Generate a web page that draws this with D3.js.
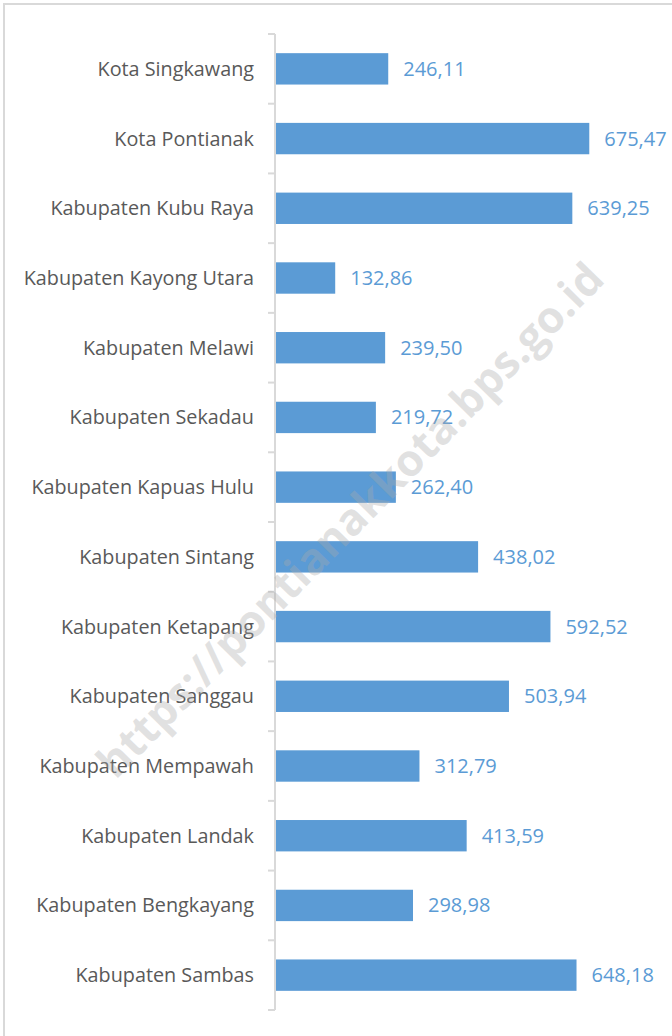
<!DOCTYPE html>
<html>
<head>
<meta charset="utf-8">
<script src="https://cdn.jsdelivr.net/npm/d3@7"></script>
<style>
  html, body { margin: 0; padding: 0; background: #fff; }
  svg { display: block; }
</style>
</head>
<body>
<svg id="chart" width="672" height="1036"></svg>
<script>
// data, top to bottom as in the picture
var regions = ["Kota Singkawang", "Kota Pontianak", "Kabupaten Kubu Raya", "Kabupaten Kayong Utara",
  "Kabupaten Melawi", "Kabupaten Sekadau", "Kabupaten Kapuas Hulu", "Kabupaten Sintang",
  "Kabupaten Ketapang", "Kabupaten Sanggau", "Kabupaten Mempawah", "Kabupaten Landak",
  "Kabupaten Bengkayang", "Kabupaten Sambas"];
var values = [246.11, 675.47, 639.25, 132.86, 239.50, 219.72, 262.40, 438.02,
  592.52, 503.94, 312.79, 413.59, 298.98, 648.18];
var watermark = "https://pontianakkota.bps.go.id";

var data = regions.map(function(r, i){ return {name: r, val: values[i]}; });

var svg = d3.select("svg#chart");
var fmt = function(v){ return v.toFixed(2).replace(".", ","); };

// chart frame (only left and top edges fall inside the picture)
svg.append("rect")
  .attr("x", 4).attr("y", 4)
  .attr("width", 700).attr("height", 1060)
  .attr("fill", "none")
  .attr("stroke", "#d9d9d9")
  .attr("stroke-width", 2);

var axisX = 275;
var x = d3.scaleLinear().domain([0, 800]).range([273, 273 + 374.6]);
var y = d3.scaleBand().domain(regions).range([34, 1010]).paddingInner(0.55).paddingOuter(0.275);

// axis line and ticks at band boundaries
var g = svg.append("g");
g.append("line")
  .attr("x1", axisX).attr("x2", axisX)
  .attr("y1", 34).attr("y2", 1010)
  .attr("stroke", "#d9d9d9").attr("stroke-width", 2);
var bounds = d3.range(regions.length + 1).map(function(i){ return 34 + i * y.step(); });
g.selectAll("line.tick")
  .data(bounds)
  .enter()
  .append("line")
  .attr("class", "tick")
  .attr("x1", axisX - 7).attr("x2", axisX)
  .attr("y1", function(d){ return d; })
  .attr("y2", function(d){ return d; })
  .attr("stroke", "#d9d9d9").attr("stroke-width", 2);

svg.append("g").selectAll("rect")
  .data(data)
  .enter()
  .append("rect")
  .attr("x", axisX + 1)
  .attr("y", function(d){ return y(d.name); })
  .attr("width", function(d){ return x(d.val) - axisX - 1; })
  .attr("height", y.bandwidth())
  .style("fill", "#5b9bd5");

// category labels
svg.append("g").selectAll("text")
  .data(data)
  .enter()
  .append("text")
  .attr("x", 254)
  .attr("y", function(d){ return y(d.name) + y.bandwidth() / 2; })
  .attr("dy", "0.35em")
  .attr("text-anchor", "end")
  .style("font-family", "'Open Sans', 'Noto Sans', sans-serif")
  .style("font-size", "19.8px")
  .style("fill", "#595959")
  .text(function(d){ return d.name; });

// value labels
svg.append("g").selectAll("text")
  .data(data)
  .enter()
  .append("text")
  .attr("x", function(d){ return x(d.val) + 15; })
  .attr("y", function(d){ return y(d.name) + y.bandwidth() / 2; })
  .attr("dy", "0.35em")
  .attr("text-anchor", "start")
  .style("font-family", "'Open Sans', 'Noto Sans', sans-serif")
  .style("font-size", "20px")
  .style("fill", "#5b9bd5")
  .text(function(d){ return fmt(d.val); });

// watermark
svg.append("text")
  .attr("transform", "translate(350,520) rotate(-45.5)")
  .attr("text-anchor", "middle")
  .attr("dy", "0.35em")
  .style("font-family", "'Open Sans', sans-serif")
  .style("font-weight", "bold")
  .style("font-size", "44px")
  .style("fill", "rgba(170,170,170,0.35)")
  .text(watermark);
</script>
</body>
</html>
